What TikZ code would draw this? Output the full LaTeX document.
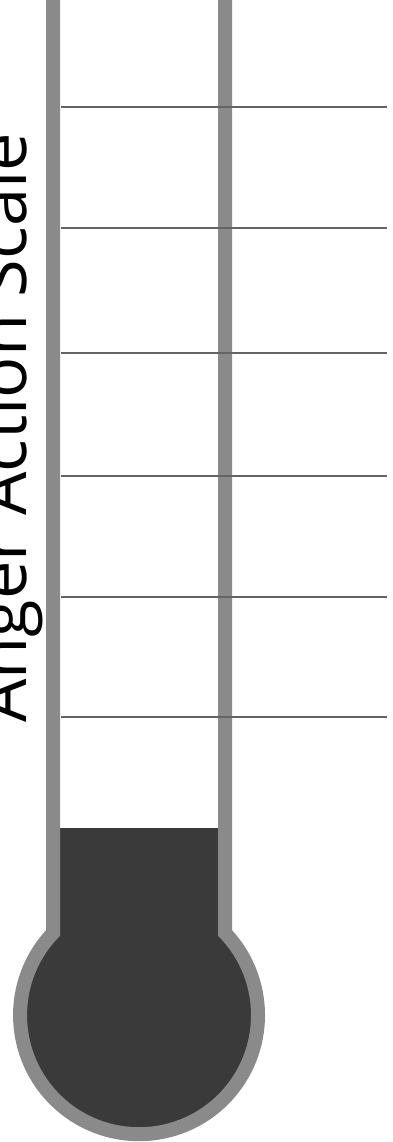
\documentclass[tikz,border=0pt]{standalone}
\usepackage{fontspec}
\setmainfont{Open Sans}
\usepackage{tikz}
\usetikzlibrary{positioning,calc}
\definecolor{TubeGray}{RGB}{138,138,138}
\definecolor{TickGray}{RGB}{100,100,100}
\definecolor{MercuryDark}{RGB}{58,58,58}

\begin{document}
\begin{tikzpicture}[
    x=1pt, y=-1pt,
    tube/.style={draw=TubeGray, line width=14pt},
    tick/.style={draw=TickGray, line width=2.5pt},
    mercury/.style={fill=MercuryDark},
    title/.style={rotate=90, anchor=base west, inner sep=0pt,
        font=\fontsize{68.5}{68.5}\selectfont}
]
\useasboundingbox (0,0) rectangle (393,1142);

% bulb centre and join points of the tube
\coordinate (bulb) at (139,1015);
\coordinate (ltop) at (53,0);
\coordinate (rtop) at (225,0);

% mercury
\fill[mercury] (60,828) rectangle (218,960);
\fill[mercury] (bulb) circle[radius=113];

% glass
\draw[tube] (ltop) -- (53,933) arc[start angle=223.7, end angle=-43.7, radius=119] -- (rtop);

% scale marks
\foreach \y in {107,228,353,476,597,717}
    \draw[tick] (61,\y) -- (387,\y);

\node[title] (label) at (26,723) {Anger Action Scale};

\end{tikzpicture}
\end{document}
